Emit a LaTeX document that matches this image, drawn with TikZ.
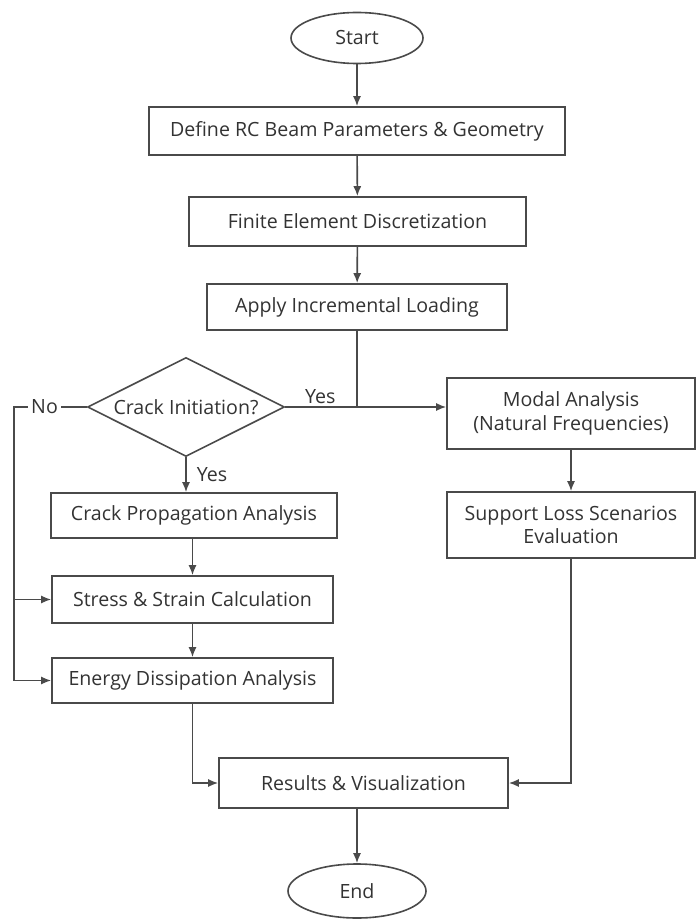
\documentclass[tikz,border=0pt]{standalone}
\usepackage{fontspec}
\setmainfont{Open Sans}
\usepackage{tikz}
\usetikzlibrary{arrows.meta, shapes.geometric, calc}
\definecolor{linegray}{HTML}{4A4A4A}
\definecolor{textgray}{HTML}{333333}

\begin{document}
\begin{tikzpicture}[x=0.5pt, y=-0.5pt,
    every node/.style={font=\fontsize{9.8}{11.8}\selectfont, text=textgray},
    box/.style={draw=linegray, line width=0.8pt, fill=white, rectangle, inner sep=0pt, align=center},
    term/.style={draw=linegray, line width=0.8pt, fill=white, ellipse, inner sep=0pt},
    decide/.style={draw=linegray, line width=0.8pt, fill=white, diamond, aspect=2, inner sep=0pt},
    flow/.style={draw=linegray, line width=0.8pt, -{Latex[length=5pt,width=4pt]}},
    plain/.style={draw=linegray, line width=0.8pt}]
                        \useasboundingbox[fill=white] (0,0) rectangle (697,919);

                        \node[term, minimum width=66pt, minimum height=25.5pt] (start) at (357, 38) {Start};
                        \node[box, minimum width=208pt, minimum height=24pt] (define) at (357, 131) {Define RC Beam Parameters \& Geometry};
                        \node[box, minimum width=168.5pt, minimum height=24.5pt] (fem) at (357.5, 221.5) {Finite Element Discretization};
                        \node[box, minimum width=150pt, minimum height=23pt] (load) at (357, 307) {Apply Incremental Loading};
                        \node[decide, minimum width=98.5pt, minimum height=49.5pt] (crack) at (186, 407) {Crack Initiation?};
                        \node[box, minimum width=143pt, minimum height=22.5pt] (prop) at (194, 515.5) {Crack Propagation Analysis};
                        \node[box, minimum width=140.5pt, minimum height=23.5pt] (stress) at (192.5, 599.5) {Stress \& Strain Calculation};
                        \node[box, minimum width=140.5pt, minimum height=22.5pt] (energy) at (192.5, 680.5) {Energy Dissipation Analysis};
                        \node[box, minimum width=124pt, minimum height=35.5pt] (modal) at (571, 413.5) {Modal Analysis\\(Natural Frequencies)};
                        \node[box, minimum width=124pt, minimum height=33pt] (support) at (571, 525) {Support Loss Scenarios\\Evaluation};
                        \node[box, minimum width=144.5pt, minimum height=25pt] (results) at (363.5, 783) {Results \& Visualization};
                        \node[term, minimum width=69pt, minimum height=27pt] (end) at (357, 891) {End};
                        \coordinate (nobend) at (14, 407);

                        \draw[flow] (start) -- (define);
                        \draw[flow] (define) -- (fem);
                        \draw[flow] (fem) -- (load);
                        \draw[plain] (load.south) -- (load.south |- crack.east);
                        \draw[flow] (crack.east) -- node[pos=0.1, anchor=south west, inner sep=1.5pt] {Yes} (crack.east -| modal.west);
                        \draw[flow] (crack.south) -- node[right, inner sep=5pt] {Yes} (crack.south |- prop.north);
                        \draw[flow] (prop.south -| stress.north) -- (stress.north);
                        \draw[flow] (stress) -- (energy);
                        \draw[plain] (crack.west) -- node[pos=0.58, fill=white, inner sep=1.5pt] {No} (nobend) -- (nobend |- energy.west);
                        \draw[flow] (nobend |- stress.west) -- (stress.west);
                        \draw[flow] (nobend |- energy.west) -- (energy.west);
                        \draw[flow] (modal) -- (support);
                        \draw[flow] (energy.south) |- (results.west);
                        \draw[flow] (support.south) |- (results.east);
                        \draw[flow] (end.north |- results.south) -- (end.north);
                    \end{tikzpicture}
\end{document}
